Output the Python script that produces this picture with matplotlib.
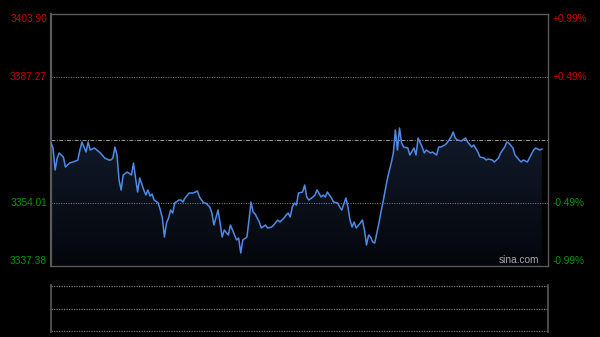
import numpy as np
import matplotlib
matplotlib.use("Agg")
import matplotlib.pyplot as plt
from matplotlib.colors import LinearSegmentedColormap

# intraday index, minute of session vs price
minutes = [0, 1, 2, 3, 4, 6, 7, 9, 12, 13, 14, 15, 17, 18, 19, 21, 24, 26, 28, 29,
           30, 31, 32, 33, 34, 35, 37, 39, 40, 41, 42, 43, 45, 46, 47, 48, 49, 50, 52, 53,
           54, 55, 56, 57, 58, 59, 60, 62, 63, 64, 65, 67, 69, 71, 72, 74, 75, 77, 78, 79,
           81, 82, 83, 84, 86, 87, 88, 90, 91, 92, 93, 95, 96, 97, 98, 99, 101, 102, 104, 105,
           107, 108, 110, 111, 113, 114, 115, 116, 117, 118, 119, 120, 122, 123, 124, 125, 127, 128, 129, 131,
           132, 133, 134, 136, 137, 139, 140, 141, 143, 144, 145, 146, 147, 148, 150, 151, 152, 153, 154, 155,
           156, 157, 159, 160, 161, 162, 163, 164, 165, 166, 167, 168, 169, 170, 171, 173, 174, 176, 177, 178,
           180, 181, 182, 184, 185, 187, 188, 189, 191, 192, 194, 195, 196, 197, 199, 201, 202, 204, 205, 207,
           208, 210, 211, 212, 214, 215, 217, 218, 220, 221, 222, 224, 225, 227, 228, 229, 231, 232, 234, 235,
           237, 238, 240]
prices = [3369.85, 3368.53, 3362.72, 3365.89, 3367.21, 3366.15, 3363.51, 3364.57, 3365.10, 3365.36,
          3368.00, 3370.11, 3367.47, 3370.11, 3368.00, 3368.53, 3367.21, 3365.89, 3365.36, 3365.36,
          3365.89, 3368.79, 3366.68, 3360.08, 3357.44, 3361.40, 3362.19, 3361.40, 3364.57, 3360.61,
          3356.91, 3360.61, 3357.44, 3356.12, 3357.44, 3355.86, 3356.38, 3354.80, 3354.01, 3352.16,
          3350.05, 3345.03, 3348.73, 3350.05, 3352.16, 3351.37, 3354.01, 3354.80, 3354.80, 3354.27,
          3355.33, 3356.65, 3356.65, 3357.18, 3355.59, 3354.01, 3354.01, 3352.95, 3351.37, 3348.20,
          3352.16, 3348.73, 3345.03, 3346.88, 3345.56, 3348.20, 3346.88, 3344.24, 3344.77, 3340.81,
          3344.24, 3345.03, 3349.52, 3354.27, 3351.63, 3351.10, 3348.99, 3347.41, 3348.20, 3347.41,
          3347.67, 3348.20, 3349.52, 3348.99, 3350.05, 3350.84, 3351.37, 3350.31, 3352.95, 3354.01,
          3353.48, 3356.65, 3356.91, 3358.76, 3355.59, 3354.80, 3355.59, 3356.12, 3357.44, 3355.59,
          3356.12, 3355.59, 3356.91, 3355.33, 3354.27, 3354.01, 3352.95, 3352.16, 3355.33, 3352.95,
          3349.52, 3347.67, 3348.99, 3347.41, 3348.73, 3349.52, 3346.88, 3342.92, 3345.56, 3345.03,
          3343.71, 3343.45, 3348.73, 3351.63, 3354.27, 3357.17, 3360.08, 3362.46, 3364.57, 3367.21,
          3373.28, 3368.00, 3373.81, 3369.85, 3368.79, 3368.53, 3366.68, 3368.53, 3366.68, 3371.17,
          3368.79, 3367.21, 3368.00, 3367.21, 3367.47, 3366.68, 3368.79, 3368.79, 3369.32, 3369.85,
          3371.43, 3372.75, 3371.17, 3370.64, 3370.38, 3371.17, 3370.11, 3368.79, 3369.32, 3367.47,
          3366.15, 3365.89, 3365.36, 3365.62, 3365.36, 3364.83, 3365.89, 3367.21, 3368.79, 3370.11,
          3369.85, 3368.53, 3366.68, 3365.36, 3364.83, 3365.36, 3364.83, 3365.89, 3368.00, 3368.53,
          3368.00, 3368.26]

prev_close = 3370.64
left_ticks = [3403.90, 3387.27, 3354.01, 3337.38]
left_labels = ["3403.90", "3387.27", "3354.01", "3337.38"]
right_labels = ["+0.99%", "+0.49%", "-0.49%", "-0.99%"]
tick_colors = ["#cc0000", "#cc0000", "#009900", "#009900"]

ymin, ymax = 3337.38, 3403.90
n = min(len(minutes), len(prices))
minutes = minutes[:n]
prices = prices[:n]

fig = plt.figure(figsize=(6, 3.37), dpi=100, facecolor="black")
ax = fig.add_axes([51 / 600, 1 - 266 / 337, 497 / 600, 252 / 337])
ax.set_facecolor("black")
ax.set_xlim(0, 241)
ax.set_ylim(ymin, ymax)
ax.set_xticks([])
ax.set_yticks([])
for s in ax.spines.values():
    s.set_color("#5a5a5a")
    s.set_linewidth(1.0)
ax.spines["left"].set_linewidth(1.6)

# gradient area under the line
cmap = LinearSegmentedColormap.from_list("fade", ["#04060b", "#121b2c"])
grad = np.linspace(0, 1, 256).reshape(-1, 1)
poly = ax.fill_between(minutes, prices, ymin, color="none", lw=0)
img = ax.imshow(grad, cmap=cmap, aspect="auto", origin="lower",
                extent=[0, 241, ymin, max(prices)], zorder=1)
img.set_clip_path(poly.get_paths()[0], transform=ax.transData)

# guide lines
for v in [3387.27, 3354.01]:
    ax.axhline(v, color="#8a8a8a", lw=0.7, ls=(0, (1, 1.5)), zorder=2)
ax.axhline(prev_close, color="#9a9a9a", lw=0.7, ls=(0, (4, 1.5, 1, 1.5)), zorder=2)

ax.plot(minutes, prices, color="#4f8ae6", lw=1.1, zorder=3)

# axis labels drawn as text
tf = dict(fontsize=7.3, family="Liberation Sans")
vas = ["top", "center", "center", "bottom"]
offs = [-0.1, 0, 0, 0.1]
for v, lab, rlab, c, va, o in zip(left_ticks, left_labels, right_labels, tick_colors, vas, offs):
    ax.text(-2, v + o, lab, color=c, ha="right", va=va, **tf)
    ax.text(243, v + o, rlab, color=c, ha="left", va=va, **tf)

ax.text(236.5, ymin + 0.2, "sina.com", color="#a8a8a8", ha="right", va="bottom", **tf)

# volume panel (empty)
ax2 = fig.add_axes([51 / 600, 1 - 332 / 337, 497 / 600, 47 / 337])
ax2.set_facecolor("black")
ax2.set_xlim(0, 241)
ax2.set_ylim(-0.05, 2.05)
ax2.set_xticks([])
ax2.set_yticks([])
for k in ["top", "bottom"]:
    ax2.spines[k].set_visible(False)
for k in ["left", "right"]:
    ax2.spines[k].set_color("#5a5a5a")
    ax2.spines[k].set_linewidth(1.2)
for v in [0, 1, 2]:
    ax2.axhline(v, color="#7a7a7a", lw=0.9, ls=(0, (1, 1)))

fig.savefig("out.png", dpi=100, facecolor="black")
